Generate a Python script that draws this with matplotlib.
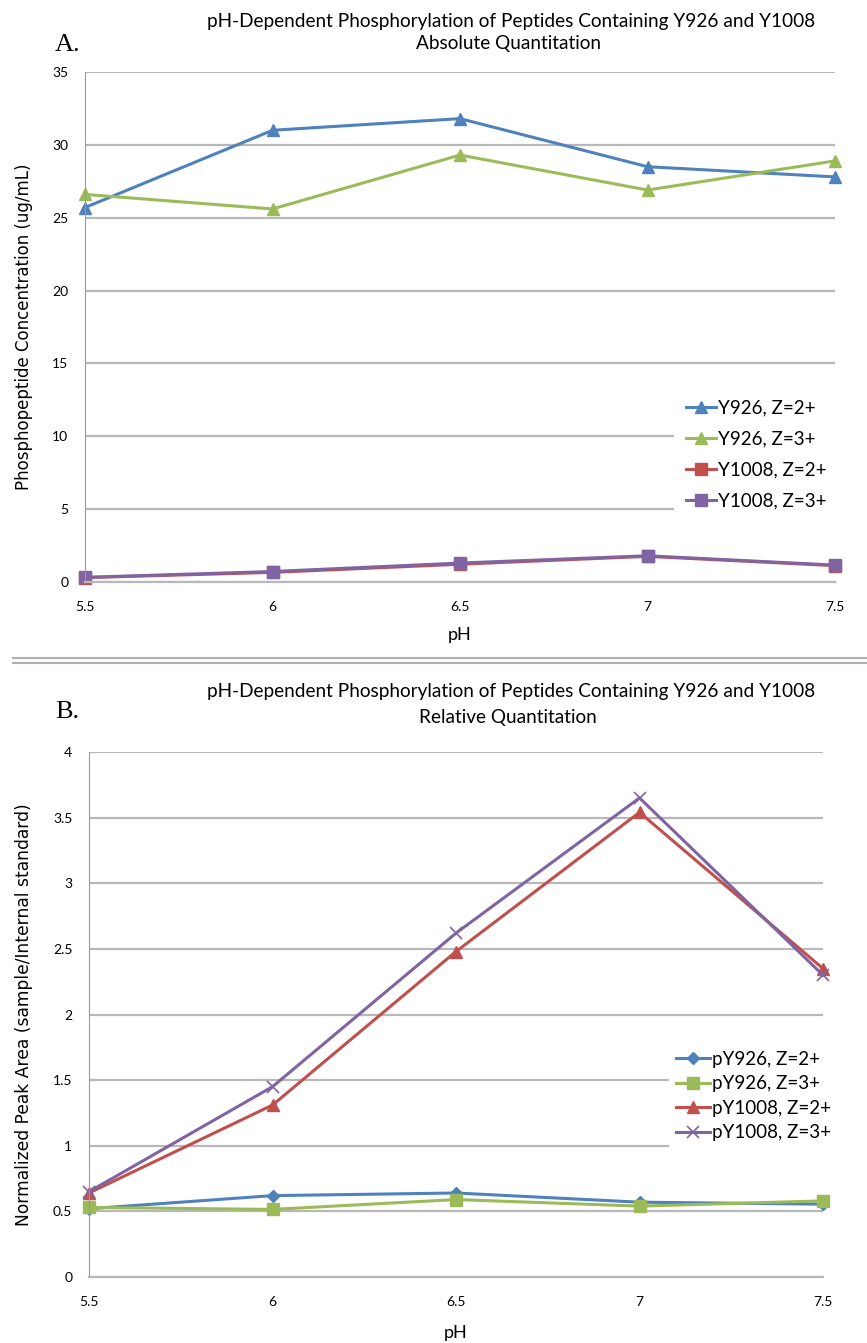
import matplotlib
matplotlib.use('Agg')
import matplotlib.pyplot as plt
from matplotlib.lines import Line2D

# pH values
ph = [5.5, 6.0, 6.5, 7.0, 7.5]

# A. absolute quantitation (ug/mL)
y926_z2 = [25.7, 31.0, 31.8, 28.5, 27.8]
y926_z3 = [26.6, 25.6, 29.3, 26.9, 28.9]
y1008_z2 = [0.30, 0.66, 1.22, 1.76, 1.12]
y1008_z3 = [0.32, 0.72, 1.30, 1.80, 1.16]

# B. relative quantitation (sample / internal standard)
py926_z2 = [0.52, 0.62, 0.64, 0.57, 0.555]
py926_z3 = [0.53, 0.515, 0.59, 0.54, 0.58]
py1008_z2 = [0.64, 1.31, 2.48, 3.54, 2.35]
py1008_z3 = [0.65, 1.45, 2.62, 3.65, 2.30]

labels_a = ['Y926, Z=2+', 'Y926, Z=3+', 'Y1008, Z=2+', 'Y1008, Z=3+']
labels_b = ['pY926, Z=2+', 'pY926, Z=3+', 'pY1008, Z=2+', 'pY1008, Z=3+']

blue, green, red, purple = '#4F81BD', '#9BBB59', '#C0504D', '#8064A2'
grid_c = '#b8b8b8'
narrow = ['Lato', 'DejaVu Sans']

W, H = 867, 1343
fig = plt.figure(figsize=(W / 100, H / 100), dpi=100)


def axes_px(left, top, right, bottom):
    return fig.add_axes([left / W, 1 - bottom / H, (right - left) / W, (bottom - top) / H])


def style(ax, ymax, ystep, ylabel, ysize, xpad):
    ax.set_xlim(5.5, 7.5)
    ax.set_ylim(0, ymax)
    ax.set_xticks(ph)
    ax.set_xticklabels(['5.5', '6', '6.5', '7', '7.5'], family=narrow, fontsize=10)
    yt = [i * ystep for i in range(int(round(ymax / ystep)) + 1)]
    ax.set_yticks(yt)
    ax.set_yticklabels(['%g' % v for v in yt], family=narrow, fontsize=10)
    ax.tick_params(length=0)
    ax.tick_params(axis='x', pad=14)
    ax.tick_params(axis='y', pad=12)
    for s in ['top', 'right']:
        ax.spines[s].set_visible(False)
    ax.spines['left'].set_color('#999999')
    ax.spines['bottom'].set_color(grid_c)
    ax.spines['bottom'].set_linewidth(1.6)
    ax.yaxis.grid(True, color=grid_c, linewidth=1.6)
    ax.set_axisbelow(True)
    ax.set_xlabel('pH', family=narrow, fontsize=13, labelpad=xpad)
    ax.set_ylabel(ylabel, fontfamily='DejaVu Sans', fontsize=ysize, labelpad=14)


# ---- A ----
ax1 = axes_px(85, 72, 835, 582)
style(ax1, 35, 5, 'Phosphopeptide Concentration (ug/mL)', 12, 10)
kw = dict(linewidth=2.2, markersize=8, clip_on=False)
ax1.plot(ph, y926_z2, color=blue, marker='^', label=labels_a[0], **kw)
ax1.plot(ph, y926_z3, color=green, marker='^', label=labels_a[1], **kw)
ax1.plot(ph, y1008_z2, color=red, marker='s', label=labels_a[2], **kw)
ax1.plot(ph, y1008_z3, color=purple, marker='s', label=labels_a[3], **kw)
ax1.legend(loc='center left', bbox_to_anchor=(0.785, 0.25), prop={'family': narrow, 'size': 13.5},
           frameon=True, facecolor='white', edgecolor='none', framealpha=1, borderpad=0.65,
           handlelength=1.6, handletextpad=0.1, labelspacing=0.75, borderaxespad=0, fancybox=False)

fig.text(511 / W, 1 - 21 / H, 'pH-Dependent Phosphorylation of Peptides Containing Y926 and Y1008',
         ha='center', va='center', family=narrow, fontsize=13.7)
fig.text(508 / W, 1 - 44 / H, 'Absolute Quantitation', ha='center', va='center', family=narrow, fontsize=13.7)
fig.text(55 / W, 1 - 45 / H, 'A.', ha='left', va='center', family='Liberation Serif', fontsize=19)

# separator double line
for yy in (658, 663):
    fig.add_artist(Line2D([13 / W, 1], [1 - yy / H] * 2, color='#b0b0b0', linewidth=1.5))

# ---- B ----
ax2 = axes_px(89, 752, 823, 1277)
style(ax2, 4, 0.5, 'Normalized Peak Area (sample/Internal standard)', 12.3, 12)
ax2.plot(ph, py926_z2, color=blue, marker='D', markersize=6, linewidth=2.2, clip_on=False, label=labels_b[0])
ax2.plot(ph, py926_z3, color=green, marker='s', markersize=8, linewidth=2.2, clip_on=False, label=labels_b[1])
ax2.plot(ph, py1008_z2, color=red, marker='^', markersize=8, linewidth=2.2, clip_on=False, label=labels_b[2])
ax2.plot(ph, py1008_z3, color=purple, marker='x', markersize=8, markeredgewidth=1.2, linewidth=2.2,
         clip_on=False, label=labels_b[3])
ax2.legend(loc='center left', bbox_to_anchor=(0.79, 0.345), prop={'family': narrow, 'size': 13.5},
           frameon=True, facecolor='white', edgecolor='none', framealpha=1,
           handlelength=1.8, handletextpad=0.1, labelspacing=0.4, borderaxespad=0, fancybox=False)

fig.text(511 / W, 1 - 691 / H, 'pH-Dependent Phosphorylation of Peptides Containing Y926 and Y1008',
         ha='center', va='center', family=narrow, fontsize=13.7)
fig.text(508 / W, 1 - 718 / H, 'Relative Quantitation', ha='center', va='center', family=narrow, fontsize=13.7)
fig.text(55 / W, 1 - 712 / H, 'B.', ha='left', va='center', family='Liberation Serif', fontsize=19)

fig.savefig('out.png', dpi=100)
